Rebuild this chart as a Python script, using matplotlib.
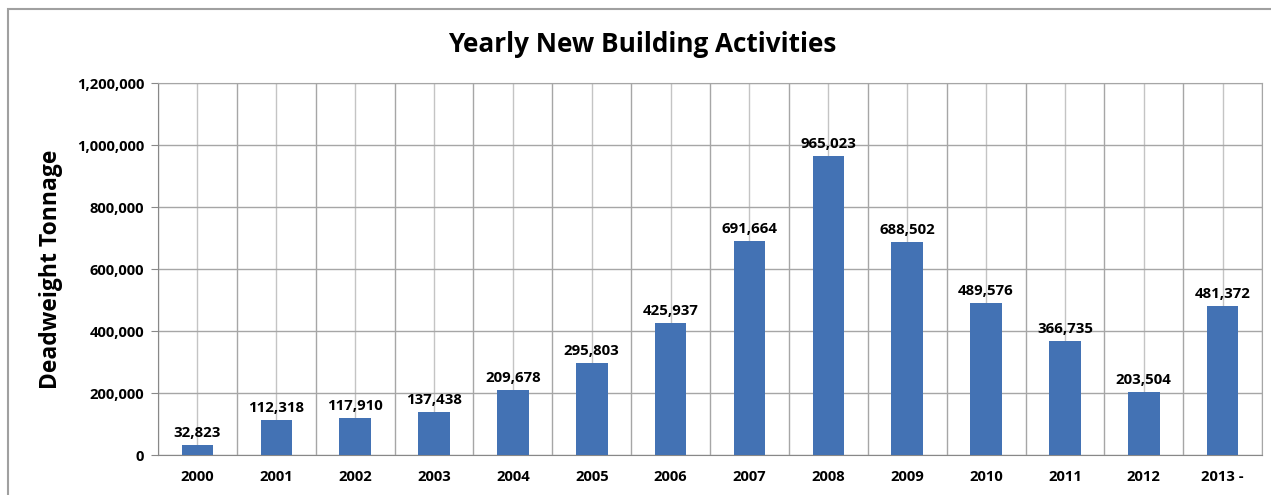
import numpy as np
import matplotlib.pyplot as plt
from matplotlib.ticker import FuncFormatter, MultipleLocator
from matplotlib.patches import Rectangle

years = ['2000', '2001', '2002', '2003', '2004', '2005', '2006',
         '2007', '2008', '2009', '2010', '2011', '2012', '2013 -']
tonnage = [32823, 112318, 117910, 137438, 209678, 295803, 425937,
           691664, 965023, 688502, 489576, 366735, 203504, 481372]

plt.rcParams['font.family'] = ['Open Sans', 'DejaVu Sans']

fig = plt.figure(figsize=(12.71, 4.95), dpi=100)
ax = fig.add_axes([0.1243, 0.0808, 0.993 - 0.1243, 0.8323 - 0.0808])

# outer chart frame (cut off on right/bottom in reference)
fig.patches.append(Rectangle((8 / 1271, -0.1), 1.2, 1 - 9 / 495 + 0.1,
                             transform=fig.transFigure, fill=False,
                             edgecolor='#a0a0a0', linewidth=1.5))

x = np.arange(len(years))
ax.bar(x, tonnage, width=0.4, color='#4372b4', zorder=3)

for xi, v in zip(x, tonnage):
    ax.text(xi, v + 16000, f'{v:,}', ha='center', va='bottom',
            fontsize=10.8, fontweight='bold', zorder=4)

ax.set_xlim(-0.5, len(years) - 0.5)
ax.set_ylim(0, 1200000)
ax.yaxis.set_major_locator(MultipleLocator(200000))
ax.yaxis.set_major_formatter(FuncFormatter(lambda v, p: f'{int(v):,}'))

ax.set_xticks(x)
ax.set_xticklabels(years)
ax.set_xticks(np.arange(-0.5, len(years)), minor=True)

ax.grid(axis='y', color='#a6a6a6', linewidth=1, zorder=0)
ax.grid(axis='x', which='major', color='#c4c4c4', linewidth=1, zorder=0)
ax.grid(axis='x', which='minor', color='#a6a6a6', linewidth=1, zorder=0)

ax.tick_params(axis='x', which='both', length=0, pad=11)
ax.tick_params(axis='y', length=5, color='#888888', pad=5)
for lab in ax.get_xticklabels() + ax.get_yticklabels():
    lab.set_fontweight('bold')
    lab.set_fontsize(10.6)

for side in ['top', 'right']:
    ax.spines[side].set_color('#a6a6a6')
for side in ['left', 'bottom']:
    ax.spines[side].set_color('#888888')

ax.set_ylabel('Deadweight Tonnage', fontsize=16.5, fontweight='bold', labelpad=10)
fig.text(0.505, 0.91, 'Yearly New Building Activities', ha='center', va='center',
         fontsize=18.8, fontweight='bold')

fig.savefig('out.png', dpi=100)
